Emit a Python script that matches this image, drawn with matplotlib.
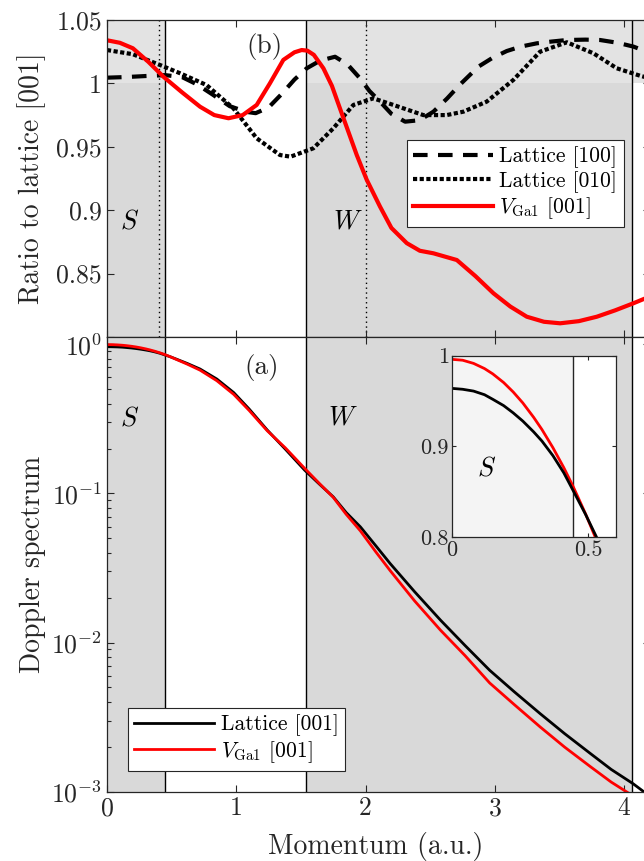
import matplotlib
matplotlib.use('Agg')
import matplotlib.pyplot as plt
from matplotlib.ticker import LogLocator, NullFormatter

plt.rcParams['font.family'] = 'serif'
plt.rcParams['font.serif'] = ['cmr10']
plt.rcParams['mathtext.fontset'] = 'cm'
plt.rcParams['axes.unicode_minus'] = False

# ratio to lattice [001] (panel b)
x_100 = [0, 0.15, 0.3, 0.45, 0.58, 0.7, 0.82, 0.95, 1.08, 1.15, 1.25, 1.35, 1.45, 1.545,
         1.65, 1.764, 1.86, 1.957, 2.03, 2.112, 2.2, 2.306, 2.42, 2.525, 2.63, 2.73,
         2.873, 2.98, 3.092, 3.2, 3.325, 3.44, 3.557, 3.7, 3.814, 3.95, 4.072, 4.2]
ratio_100 = [1.0045, 1.005, 1.0058, 1.0065, 1.005, 0.999, 0.991, 0.982, 0.9775, 0.9765,
             0.981, 0.9915, 1.003, 1.0119, 1.018, 1.021, 1.015, 1.004, 0.994, 0.9856,
             0.976, 0.9698, 0.971, 0.9777, 0.988, 0.999, 1.0132, 1.020, 1.0255, 1.029,
             1.0316, 1.033, 1.0342, 1.0345, 1.0342, 1.032, 1.029, 1.024]

x_010 = [0, 0.2, 0.41, 0.565, 0.77, 0.977, 1.158, 1.338, 1.42, 1.596, 1.751, 1.906,
         2.06, 2.215, 2.447, 2.628, 2.757, 2.937, 3.143, 3.35, 3.557, 3.763, 3.943,
         4.124, 4.2]
ratio_010 = [1.0263, 1.023, 1.0145, 1.008, 0.9987, 0.9804, 0.9567, 0.9435, 0.9422,
             0.9488, 0.9646, 0.983, 0.9882, 0.983, 0.975, 0.975, 0.9777, 0.9856, 1.0027,
             1.025, 1.0324, 1.0237, 1.0119, 1.006, 1.004]

x_vga = [0, 0.1, 0.2, 0.32, 0.436, 0.58, 0.72, 0.83, 0.94, 1.05, 1.158, 1.26, 1.364,
         1.45, 1.506, 1.55, 1.6, 1.674, 1.74, 1.803, 1.932, 2.009, 2.112, 2.2, 2.319,
         2.42, 2.525, 2.706, 2.85, 2.989, 3.12, 3.247, 3.38, 3.505, 3.65, 3.789, 3.93,
         4.072, 4.2]
ratio_vga = [1.034, 1.032, 1.0277, 1.017, 1.0053, 0.993, 0.9816, 0.975, 0.9725, 0.975,
             0.983, 1.0, 1.0185, 1.0245, 1.0263, 1.0258, 1.0225, 1.0119, 0.998, 0.980,
             0.9435, 0.924, 0.9028, 0.886, 0.874, 0.868, 0.866, 0.8607, 0.848, 0.8345,
             0.824, 0.816, 0.812, 0.8108, 0.8125, 0.816, 0.821, 0.8266, 0.832]

# Doppler spectra (panel a and inset)
momentum = [0, 0.04, 0.08, 0.12, 0.15, 0.19, 0.225, 0.26, 0.3, 0.33, 0.37, 0.41, 0.445,
            0.49, 0.53, 0.62, 0.72, 0.85, 0.98, 1.1, 1.24, 1.38, 1.53, 1.65, 1.75, 1.85,
            1.96, 2.08, 2.19, 2.38, 2.58, 2.77, 2.96, 3.15, 3.35, 3.54, 3.74, 3.9, 4.07, 4.2]
lattice_001 = [0.964, 0.963, 0.961, 0.957, 0.952, 0.945, 0.937, 0.928, 0.916, 0.906,
               0.890, 0.871, 0.851, 0.825, 0.800, 0.745, 0.683, 0.585, 0.475, 0.368,
               0.266, 0.198, 0.143, 0.114, 0.0949, 0.0745, 0.0597, 0.0445, 0.0339,
               0.0219, 0.01413, 0.00955, 0.00652, 0.00468, 0.00334, 0.00245, 0.0018,
               0.00141, 0.00113, 0.00093]
vga_001 = [0.996, 0.995, 0.9915, 0.9858, 0.980, 0.9704, 0.960, 0.948, 0.932, 0.9187,
           0.8988, 0.8767, 0.8554, 0.8255, 0.7966, 0.737, 0.671, 0.570, 0.462, 0.360,
           0.263, 0.202, 0.147, 0.115, 0.0942, 0.0725, 0.0561, 0.0405, 0.0304, 0.019,
           0.0121, 0.00817, 0.00536, 0.00384, 0.00272, 0.00199, 0.00147, 0.00116,
           0.000935, 0.00077]

s_edge, w_start, w_end = 0.445, 1.537, 4.06
dotted_marks = [0.405, 2.0]

gray = '#d9d9d9'
light = '#e3e3e3'
axcol = '#262626'
vlabel = r'$V_{\mathrm{Ga1}}$ [001]'
tick_fs = 18.5
label_fs = 20
leg_fs = 15.5

fig = plt.figure(figsize=(6.44, 8.61), dpi=100)
ax_top = fig.add_axes([0.1661, 0.6086, 0.8432, 0.3682])
ax_bot = fig.add_axes([0.1661, 0.0805, 0.8432, 0.5281])
ax_in = fig.add_axes([0.7014, 0.376, 0.2547, 0.2109])

# ---- panel (b)
ax_top.axvspan(0, s_edge, color=gray, lw=0, zorder=0)
ax_top.axvspan(w_start, w_end, color=gray, lw=0, zorder=0)
ax_top.fill_between([0, s_edge], 1, 1.05, color=light, lw=0, zorder=0.5)
ax_top.fill_between([w_start, 4.2], 1, 1.05, color=light, lw=0, zorder=0.5)
for xv in [s_edge, w_start, w_end]:
    ax_top.axvline(xv, color='k', lw=1, zorder=1)
for xv in dotted_marks:
    ax_top.axvline(xv, color='k', lw=1, ls=(0, (1, 2.5)), zorder=1)

ax_top.plot(x_100, ratio_100, color='k', lw=3, ls=(0, (3.5, 2.5)), label='Lattice [100]', zorder=3)
ax_top.plot(x_010, ratio_010, color='k', lw=3, ls=(0, (1, 0.6)), label='Lattice [010]', zorder=3)
ax_top.plot(x_vga, ratio_vga, color='#ff0000', lw=3, label=vlabel, zorder=4)

ax_top.set_xlim(0, 4.2)
ax_top.set_ylim(0.8, 1.05)
ax_top.set_xticks([0, 1, 2, 3, 4])
ax_top.set_yticks([0.8, 0.85, 0.9, 0.95, 1, 1.05])
ax_top.set_yticklabels(['', '0.85', '0.9', '0.95', '1', '1.05'])
ax_top.tick_params(labelbottom=False)
ax_top.set_ylabel('Ratio to lattice [001]', fontsize=label_fs, color=axcol)
ax_top.yaxis.set_label_coords(-0.112, 0.5)
ax_top.text(1.22, 1.029, '(b)', fontsize=19.5, ha='center', va='center', color=axcol)
ax_top.text(0.178, 0.891, '$S$', fontsize=19, ha='center', va='center')
ax_top.text(1.865, 0.891, '$W$', fontsize=19, ha='center', va='center')

leg = ax_top.legend(loc='upper left', bbox_to_anchor=(0.552, 0.621), borderaxespad=0,
                    fontsize=leg_fs, handlelength=3.7, handletextpad=0.3, labelspacing=0.12,
                    borderpad=0.3, fancybox=False, framealpha=1, edgecolor=axcol)
leg.get_frame().set_linewidth(0.8)

# ---- panel (a)
ax_bot.axvspan(0, s_edge, color=gray, lw=0, zorder=0)
ax_bot.axvspan(w_start, w_end, color=gray, lw=0, zorder=0)
for xv in [s_edge, w_start, w_end]:
    ax_bot.axvline(xv, color='k', lw=1, zorder=1)
ax_bot.plot(momentum, lattice_001, color='k', lw=2, label='Lattice [001]', zorder=3)
ax_bot.plot(momentum, vga_001, color='#ff0000', lw=2, label=vlabel, zorder=4)
ax_bot.set_yscale('log')
ax_bot.set_xlim(0, 4.2)
ax_bot.set_ylim(1e-3, 1.12)
ax_bot.set_xticks([0, 1, 2, 3, 4])
ax_bot.set_xticklabels(['0', '1', '2', '3', '4'])
ax_bot.yaxis.set_major_locator(LogLocator(base=10, numticks=10))
ax_bot.yaxis.set_minor_locator(LogLocator(base=10, subs=[2, 3, 4, 5, 6, 7, 8, 9], numticks=10))
ax_bot.yaxis.set_minor_formatter(NullFormatter())
ax_bot.set_ylabel('Doppler spectrum', fontsize=label_fs, color=axcol)
ax_bot.yaxis.set_label_coords(-0.112, 0.5)
ax_bot.set_xlabel('Momentum (a.u.)', fontsize=label_fs, color=axcol)
ax_bot.xaxis.set_label_coords(0.495, -0.088)
ax_bot.text(1.2, 0.70, '(a)', fontsize=19.5, ha='center', va='center', color=axcol)
ax_bot.text(0.173, 0.32, '$S$', fontsize=19, ha='center', va='center')
ax_bot.text(1.828, 0.32, '$W$', fontsize=19, ha='center', va='center')

leg2 = ax_bot.legend(loc='lower left', bbox_to_anchor=(0.0387, 0.0455), borderaxespad=0,
                     fontsize=leg_fs, handlelength=3.7, handletextpad=0.3, labelspacing=0.12,
                     borderpad=0.3, fancybox=False, framealpha=1, edgecolor=axcol)
leg2.get_frame().set_linewidth(0.8)

# ---- inset
ax_in.axvspan(0, s_edge, color='#f4f4f4', lw=0, zorder=0)
ax_in.axvline(s_edge, color=axcol, lw=1, zorder=1)
ax_in.plot(momentum, vga_001, color='#ff0000', lw=2, zorder=3)
ax_in.plot(momentum, lattice_001, color='k', lw=2, zorder=4)
ax_in.set_xlim(0, 0.6)
ax_in.set_ylim(0.8, 1.0)
ax_in.set_xticks([0, 0.5])
ax_in.set_xticklabels(['0', '0.5'])
ax_in.set_yticks([0.8, 0.9, 1.0])
ax_in.set_yticklabels(['0.8', '0.9', '1'])
ax_in.text(0.128, 0.876, '$S$', fontsize=19, ha='center', va='center')

for ax in [ax_top, ax_bot, ax_in]:
    ax.tick_params(which='both', direction='in', top=True, right=True, width=0.8,
                   colors=axcol, labelsize=tick_fs)
    ax.tick_params(which='major', length=4.8)
    ax.tick_params(which='minor', length=3)
    for sp in ax.spines.values():
        sp.set_color(axcol)
        sp.set_linewidth(0.9)
        sp.set_zorder(5)
ax_in.tick_params(labelsize=16, pad=2, length=3)

fig.savefig('out.png', dpi=100)
